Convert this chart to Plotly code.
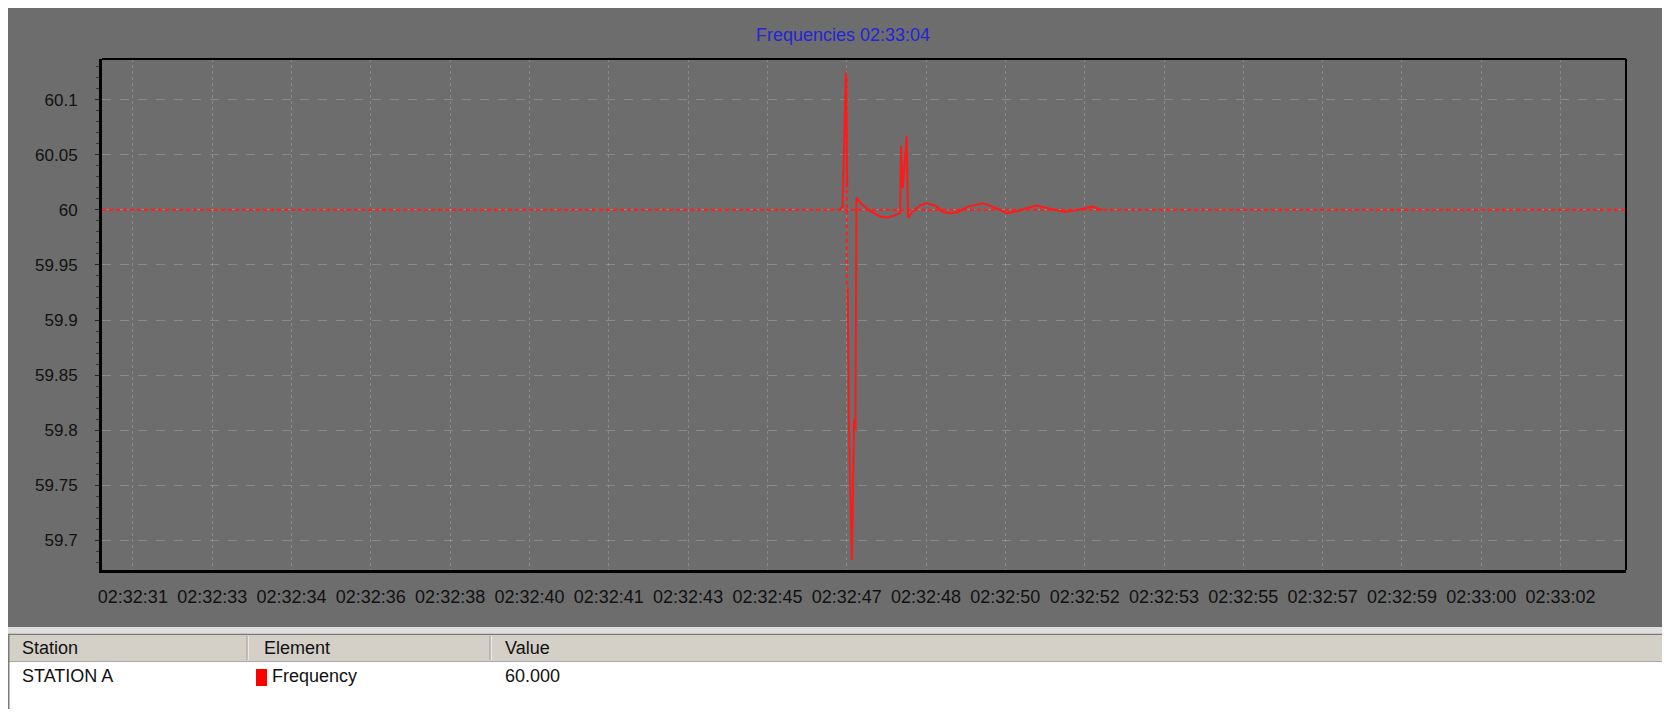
import plotly.graph_objects as go

# ---------------- data ----------------
BASE_DATE = "2000-01-01 "
title_text = "Frequencies 02:33:04"

x_range = ["02:32:30.83", "02:33:03.92"]
y_range = [59.673, 60.137]

x_tick_times = ["02:32:31.500", "02:32:33.222", "02:32:34.944", "02:32:36.667", "02:32:38.389",
                "02:32:40.111", "02:32:41.833", "02:32:43.556", "02:32:45.278", "02:32:47.000",
                "02:32:48.722", "02:32:50.444", "02:32:52.167", "02:32:53.889", "02:32:55.611",
                "02:32:57.333", "02:32:59.056", "02:33:00.778", "02:33:02.500"]
x_tick_labels = ["02:32:31", "02:32:33", "02:32:34", "02:32:36", "02:32:38", "02:32:40", "02:32:41",
                 "02:32:43", "02:32:45", "02:32:47", "02:32:48", "02:32:50", "02:32:52", "02:32:53",
                 "02:32:55", "02:32:57", "02:32:59", "02:33:00", "02:33:02"]
y_tick_values = [59.7, 59.75, 59.8, 59.85, 59.9, 59.95, 60.0, 60.05, 60.1]
y_tick_labels = ["59.7", "59.75", "59.8", "59.85", "59.9", "59.95", "60", "60.05", "60.1"]

# dotted (nominal) frequency line and dotted jump at the event
dotted_time = ["02:32:30.83", "02:33:03.92", None, "02:32:47.00", "02:32:47.00"]
dotted_freq = [60.0, 60.0, None, 60.12, 59.93]

# measured frequency during the event
event_time = ["02:32:46.85", "02:32:46.91", "02:32:46.98", "02:32:47.01", None,
              "02:32:47.02", "02:32:47.05", "02:32:47.11", "02:32:47.16", "02:32:47.19",
              "02:32:47.21", "02:32:47.27", "02:32:47.33", "02:32:47.51", "02:32:47.72",
              "02:32:47.90", "02:32:48.07", "02:32:48.16", "02:32:48.18", "02:32:48.22",
              "02:32:48.30", "02:32:48.33", "02:32:48.42", "02:32:48.59", "02:32:48.74",
              "02:32:48.92", "02:32:49.09", "02:32:49.24", "02:32:49.42", "02:32:49.63",
              "02:32:49.96", "02:32:50.22", "02:32:50.48", "02:32:50.72", "02:32:50.94",
              "02:32:51.13", "02:32:51.41", "02:32:51.74", "02:32:52.02", "02:32:52.33",
              "02:32:52.54"]
event_freq = [60.000, 60.003, 60.125, 60.020, None,
              59.930, 59.800, 59.682, 59.810, 59.800,
              60.011, 60.008, 60.005, 59.999, 59.994,
              59.993, 59.996, 59.997, 60.058, 60.020,
              60.067, 59.993, 59.998, 60.004, 60.006,
              60.004, 59.998, 59.997, 59.998, 60.003,
              60.006, 60.002, 59.997, 59.999, 60.002,
              60.004, 60.001, 59.998, 60.000, 60.003,
              60.000]

table_headers = ["Station", "Element", "Value"]
table_row = ["STATION A", "Frequency", "60.000"]

# ---------------- layout helpers (page pixel coords) ----------------
OFF = 8                       # default body margin of the html page
W, H = 1670 - OFF, 701        # figure size
L, R, T, B = 102, 1626, 59, 570   # plot area in page coords


def px(x):
    return (x - L) / (R - L)


def py(y):
    return (B - y) / (B - T)


def ts(lst):
    return [None if v is None else BASE_DATE + v for v in lst]


FONT = "Liberation Sans, Arial, sans-serif"
FS = 18
GRAY = "#6d6d6d"
PAGE_R, PAGE_B = OFF + W, OFF + H

fig = go.Figure()
fig.add_trace(go.Scatter(x=ts(dotted_time), y=dotted_freq, mode="lines",
                         line=dict(color="#ff2020", width=2.2, dash="4px,3px"),
                         showlegend=False, hoverinfo="skip"))
fig.add_trace(go.Scatter(x=ts(event_time), y=event_freq, mode="lines",
                         line=dict(color="#ff1a1a", width=2),
                         showlegend=False, name="Frequency"))

shapes = []


def rect(x0, y0, x1, y1, fill, layer="above"):
    shapes.append(dict(type="rect", xref="paper", yref="paper",
                       x0=px(x0), x1=px(x1), y0=py(y0), y1=py(y1),
                       fillcolor=fill, line=dict(width=0), layer=layer))


def hline(x0, x1, y, color, width=1):
    shapes.append(dict(type="line", xref="paper", yref="paper",
                       x0=px(x0), x1=px(x1), y0=py(y), y1=py(y),
                       line=dict(color=color, width=width), layer="above"))


def vline(x, y0, y1, color, width=1):
    shapes.append(dict(type="line", xref="paper", yref="paper",
                       x0=px(x), x1=px(x), y0=py(y0), y1=py(y1),
                       line=dict(color=color, width=width), layer="above"))


# table panel
rect(OFF, 627, PAGE_R, 634, "#dedede")
hline(OFF, PAGE_R, 634.5, "#7a7a7a", 1.5)
rect(OFF + 1, 635, PAGE_R, 661, "#d4d0c8")
hline(OFF + 1, PAGE_R, 661.5, "#a8a8a8", 1)
rect(OFF + 1, 662, PAGE_R, PAGE_B, "#ffffff")
vline(OFF + 0.75, 634, PAGE_B, "#7a7a7a", 1.5)
vline(248, 636, 660, "#ffffff", 1)
vline(247, 636, 660, "#9a9a9a", 1)
vline(491, 636, 660, "#ffffff", 1)
vline(490, 636, 660, "#9a9a9a", 1)
# red swatch
rect(256, 669, 267, 686, "#ff0000")
# frame: top & right thin black
hline(L, R, T, "#000000", 2)
vline(R, T, B, "#000000", 2)

annotations = [
    dict(text=title_text, x=px(843), y=py(35), xref="paper", yref="paper",
         showarrow=False, font=dict(family=FONT, size=FS, color="#2424d8"),
         xanchor="center", yanchor="middle"),
]
for txt, x in zip(table_headers, [20, 262, 503]):
    annotations.append(dict(text=txt, x=px(x), y=py(648), xref="paper", yref="paper",
                            showarrow=False, xanchor="left", yanchor="middle",
                            font=dict(family=FONT, size=FS, color="#111111")))
for txt, x in zip(table_row, [20, 270, 503]):
    annotations.append(dict(text=txt, x=px(x), y=py(676), xref="paper", yref="paper",
                            showarrow=False, xanchor="left", yanchor="middle",
                            font=dict(family=FONT, size=FS, color="#111111")))

grid_col = "rgba(200,200,200,0.32)"
fig.update_layout(
    width=W, height=H, autosize=False,
    margin=dict(l=L - OFF, r=PAGE_R - R, t=T - OFF, b=PAGE_B - B, pad=0),
    paper_bgcolor=GRAY, plot_bgcolor=GRAY,
    shapes=shapes, annotations=annotations, showlegend=False,
    xaxis=dict(type="date", range=ts(x_range), tickmode="array",
               tickvals=ts(x_tick_times), ticktext=x_tick_labels,
               showgrid=True, gridcolor=grid_col, griddash="dot", gridwidth=1,
               zeroline=False, showline=True, linecolor="#000000", linewidth=3,
               ticks="", ticklabelstandoff=8,
               tickfont=dict(family=FONT, size=FS, color="#111111")),
    yaxis=dict(range=y_range, tickmode="array", tickvals=y_tick_values, ticktext=y_tick_labels,
               showgrid=True, gridcolor=grid_col, griddash="dash", gridwidth=1,
               zeroline=False, showline=True, linecolor="#000000", linewidth=3,
               ticks="outside", ticklen=4, tickcolor="#222222", tickwidth=1,
               minor=dict(dtick=0.01, tick0=60.0, ticks="outside", ticklen=3,
                          tickcolor="#333333", showgrid=False),
               ticklabelstandoff=14,
               tickfont=dict(family=FONT, size=17, color="#111111")),
)

fig.write_html("out.html")
